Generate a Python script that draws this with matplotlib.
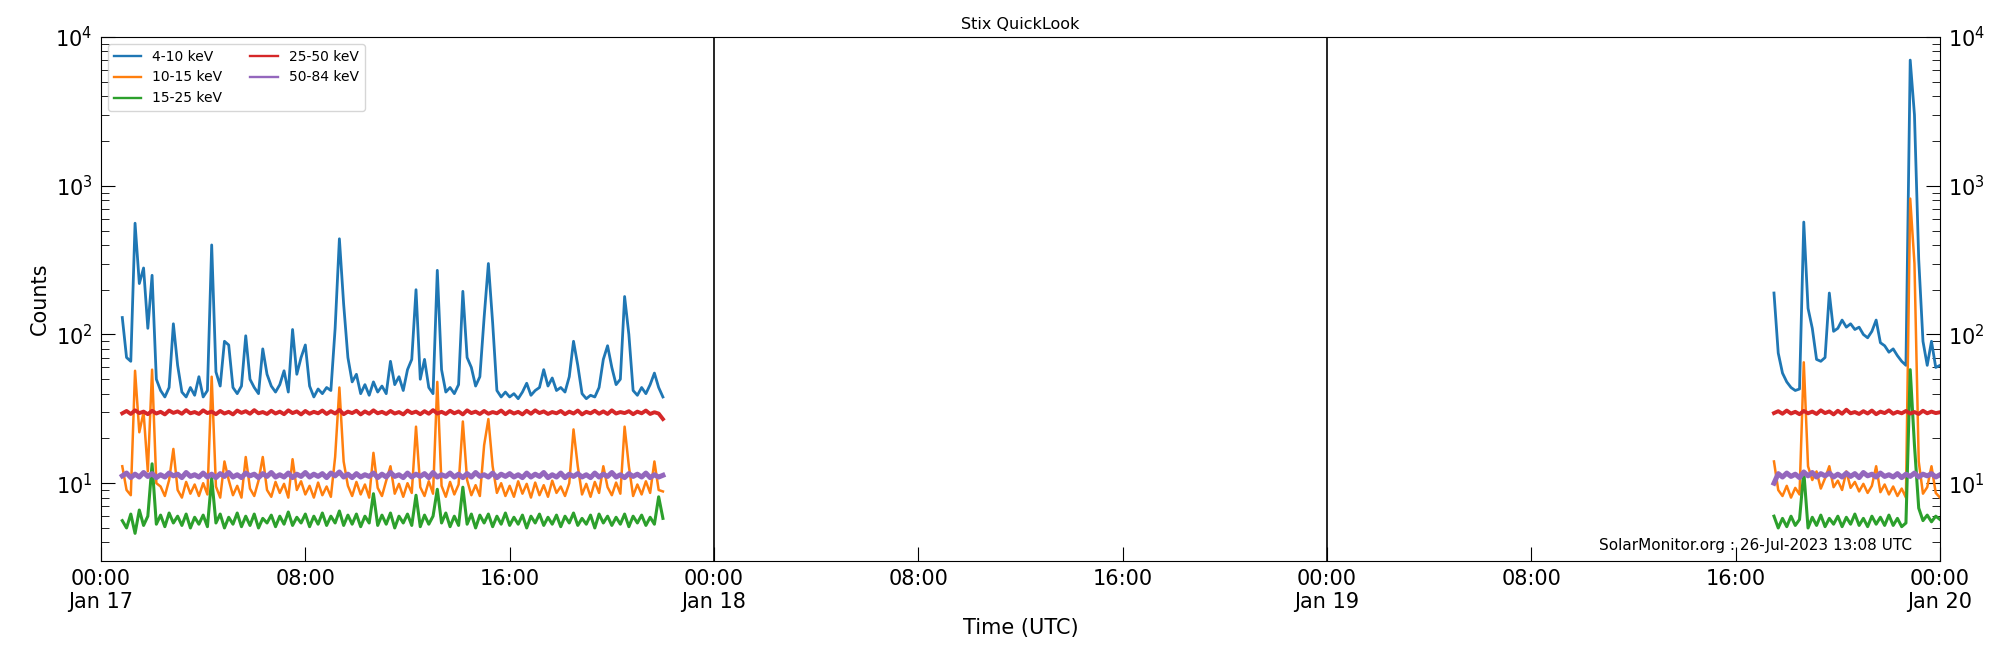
import numpy as np
import pandas as pd
import matplotlib
matplotlib.use('Agg')
import matplotlib.pyplot as plt
import matplotlib.dates as mdates
from matplotlib.ticker import FuncFormatter, LogLocator, NullFormatter

# Zeitraster der beiden Messabschnitte (10-Minuten-Werte)
t_jan17 = pd.date_range('2023-01-17 00:50', '2023-01-17 22:00', freq='10min')
t_jan19 = pd.date_range('2023-01-19 17:30', '2023-01-20 00:00', freq='10min')

labels = ['4-10 keV', '10-15 keV', '15-25 keV', '25-50 keV', '50-84 keV']
colors = ['tab:blue', 'tab:orange', 'tab:green', 'tab:red', 'tab:purple']
widths = [2.0, 1.8, 2.2, 2.8, 3.6]  # Rauschband wirkt in der Vorlage dicker

# 17. Januar, eine Zeile pro Stunde
c4_10_jan17 = [130,
    70, 66, 560, 220, 280, 110,
    250, 50, 42, 38, 44, 118,
    62, 41, 38, 44, 39, 52,
    38, 42, 400, 56, 45, 90,
    85, 44, 40, 45, 98, 50,
    44, 40, 80, 54, 45, 41,
    46, 57, 41, 108, 54, 70,
    85, 45, 38, 43, 40, 44,
    42, 110, 440, 160, 70, 48,
    54, 40, 46, 39, 48, 41,
    45, 40, 66, 46, 52, 42,
    58, 68, 200, 50, 68, 44,
    40, 270, 58, 41, 44, 40,
    46, 195, 70, 60, 45, 52,
    130, 300, 120, 42, 38, 41,
    38, 40, 37, 41, 47, 39,
    42, 44, 58, 45, 51, 42,
    44, 41, 52, 90, 62, 40,
    37, 39, 38, 44, 68, 84,
    60, 46, 50, 180, 100, 42,
    39, 44, 40, 46, 55, 44,
    38]

c10_15_jan17 = [13,
    9.0, 8.3, 57, 22, 30, 12,
    58, 10, 9.5, 8.2, 10.5, 17,
    9.0, 8.0, 10.2, 8.5, 9.8, 8.2,
    10.0, 8.4, 52, 9.5, 8.0, 14,
    10.5, 8.3, 9.6, 8.0, 15, 9.2,
    8.2, 10.4, 15, 9.0, 8.1, 10.2,
    8.6, 9.9, 8.0, 14.5, 9.0, 10.3,
    8.4, 9.6, 8.0, 10.1, 8.3, 9.5,
    8.1, 15, 44, 14, 9.6, 8.2,
    10.2, 8.4, 9.8, 8.0, 16, 9.3,
    8.2, 10.4, 13, 8.5, 9.9, 8.1,
    10.0, 8.6, 24, 9.4, 8.2, 10.3,
    8.5, 48, 9.6, 8.1, 10.2, 8.4,
    9.8, 26, 10.5, 8.3, 9.7, 8.2,
    18, 27, 13, 8.6, 10.0, 8.2,
    9.6, 8.1, 10.3, 8.5, 9.9, 8.0,
    10.1, 8.3, 9.7, 8.1, 10.4, 8.6,
    9.5, 8.2, 10.0, 23, 13, 8.4,
    9.9, 8.1, 10.2, 8.6, 13, 9.4,
    8.3, 10.1, 8.5, 24, 13, 8.2,
    9.8, 8.4, 10.3, 8.6, 14, 9.0,
    8.8]

c15_25_jan17 = [5.6,
    5.0, 6.2, 4.6, 6.6, 5.2, 6.0,
    13.5, 5.3, 6.1, 5.1, 6.3, 5.4,
    6.0, 5.2, 6.2, 5.0, 5.9, 5.3,
    6.1, 5.1, 10.8, 5.4, 6.2, 5.0,
    5.9, 5.3, 6.3, 5.1, 6.0, 5.2,
    6.2, 5.0, 5.8, 5.4, 6.1, 5.1,
    6.0, 5.3, 6.4, 5.2, 5.9, 5.4,
    6.2, 5.1, 6.0, 5.3, 6.3, 5.2,
    6.0, 5.4, 6.5, 5.2, 6.1, 5.3,
    6.2, 5.1, 6.0, 5.4, 8.5, 5.2,
    6.1, 5.3, 6.3, 5.0, 6.0, 5.4,
    6.2, 5.2, 8.3, 5.1, 6.1, 5.3,
    6.0, 9.1, 5.4, 6.3, 5.1, 6.0,
    5.2, 9.4, 5.3, 6.2, 5.0, 6.1,
    5.4, 6.2, 5.1, 6.0, 5.3, 6.3,
    5.2, 5.9, 5.3, 6.1, 5.0, 6.0,
    5.4, 6.2, 5.2, 5.9, 5.3, 6.1,
    5.1, 6.0, 5.4, 6.3, 5.2, 5.8,
    5.3, 6.1, 5.0, 6.2, 5.4, 6.0,
    5.2, 5.9, 5.3, 6.2, 5.1, 6.0,
    5.4, 6.1, 5.2, 5.9, 5.3, 8.1,
    5.8]

c25_50_jan17 = [29.5,
    30.6, 29.2, 30.9, 29.6, 30.3, 29.1,
    30.7, 29.4, 30.2, 29.0, 30.8, 29.7,
    30.4, 29.3, 31.0, 29.5, 30.1, 29.2,
    30.9, 29.6, 30.3, 29.1, 30.6, 29.4,
    30.2, 29.0, 30.8, 29.7, 30.5, 29.3,
    31.0, 29.5, 30.1, 29.2, 30.7, 29.4,
    30.3, 29.1, 30.9, 29.6, 30.4, 29.0,
    30.6, 29.3, 30.2, 29.5, 30.8, 29.2,
    30.5, 29.4, 31.1, 29.1, 30.3, 29.6,
    30.7, 29.0, 30.4, 29.3, 30.9, 29.5,
    30.2, 29.2, 30.6, 29.4, 30.1, 29.0,
    30.8, 29.6, 30.3, 29.1, 30.5, 29.3,
    31.0, 29.4, 30.2, 29.2, 30.7, 29.5,
    30.4, 29.0, 30.9, 29.6, 30.3, 29.2,
    30.6, 29.3, 30.1, 29.5, 30.8, 29.1,
    30.5, 29.4, 30.2, 29.0, 30.7, 29.3,
    30.9, 29.6, 30.4, 29.2, 30.1, 29.5,
    30.6, 29.1, 30.3, 29.4, 30.8, 29.0,
    30.2, 29.5, 30.7, 29.3, 30.4, 29.2,
    30.9, 29.4, 30.1, 29.6, 30.5, 29.1,
    30.3, 29.5, 30.8, 29.2, 30.0, 29.4,
    27.0]

c50_84_jan17 = [11.2,
    11.7, 10.9, 11.5, 11.0, 11.8, 11.1,
    11.6, 10.9, 11.4, 11.0, 11.7, 11.2,
    11.5, 10.9, 11.8, 11.1, 11.4, 11.0,
    11.7, 11.0, 11.5, 10.9, 11.6, 11.1,
    11.8, 11.0, 11.4, 10.9, 11.7, 11.2,
    11.5, 10.9, 11.6, 11.1, 11.8, 11.0,
    11.4, 11.0, 11.7, 10.9, 11.5, 11.1,
    11.8, 11.0, 11.5, 11.1, 11.6, 10.9,
    11.7, 11.2, 11.9, 11.0, 11.5, 10.9,
    11.6, 11.0, 11.4, 11.1, 11.7, 10.9,
    11.5, 11.0, 11.8, 11.1, 11.4, 10.9,
    11.7, 11.0, 11.5, 11.1, 11.6, 10.9,
    11.8, 11.0, 11.4, 11.1, 11.7, 11.0,
    11.5, 10.9, 11.6, 11.0, 11.8, 11.1,
    11.4, 11.0, 11.7, 10.9, 11.5, 11.1,
    11.6, 11.0, 11.4, 10.9, 11.7, 11.0,
    11.5, 11.1, 11.8, 10.9, 11.4, 11.0,
    11.7, 10.9, 11.5, 11.1, 11.6, 11.0,
    11.4, 10.9, 11.7, 11.0, 11.5, 11.1,
    11.8, 11.0, 11.4, 10.9, 11.6, 11.1,
    11.5, 11.0, 11.7, 10.9, 11.4, 11.0,
    11.3]

# 19. Januar ab 17:30
c4_10_jan19 = [190, 75, 55,
    48, 44, 42, 43, 570, 150,
    110, 68, 66, 70, 190, 105,
    110, 125, 112, 118, 108, 112,
    100, 95, 105, 125, 88, 84,
    76, 80, 72, 66, 62, 7000,
    3000, 320, 90, 62, 90, 60,
    62]

c10_15_jan19 = [14, 9.0, 8.2,
    9.6, 8.0, 9.3, 8.4, 65, 13,
    10.5, 12, 9.2, 10.8, 13, 9.4,
    10.4, 9.0, 12, 9.3, 10.2, 8.8,
    9.9, 8.6, 9.6, 13, 8.7, 9.8,
    8.4, 9.5, 8.2, 9.2, 8.0, 820,
    300, 14, 8.5, 9.4, 13, 8.6,
    8.0]

c15_25_jan19 = [6.0, 5.0, 5.8,
    5.1, 6.0, 5.2, 5.7, 12, 5.0,
    5.9, 5.2, 6.1, 5.1, 5.8, 5.3,
    6.0, 5.1, 5.9, 5.3, 6.2, 5.2,
    5.8, 5.1, 6.0, 5.3, 5.9, 5.2,
    6.1, 5.2, 5.8, 5.1, 5.4, 58,
    18, 6.8, 5.6, 6.1, 5.5, 6.0,
    5.7]

c25_50_jan19 = [29.6, 30.5, 29.3,
    30.8, 29.4, 30.2, 29.1, 30.6, 29.5,
    30.3, 29.2, 30.9, 29.6, 30.4, 29.0,
    30.7, 29.3, 31.2, 29.5, 30.1, 29.2,
    30.5, 29.4, 30.8, 29.1, 30.3, 29.6,
    30.9, 29.3, 30.2, 29.5, 30.6, 29.4,
    30.1, 29.2, 30.7, 29.5, 30.3, 29.6,
    30.0]

c50_84_jan19 = [10.0, 11.6, 11.0,
    11.7, 11.1, 11.5, 10.9, 11.9, 11.2,
    11.8, 11.0, 11.6, 11.2, 11.7, 11.0,
    11.5, 11.0, 11.7, 11.1, 11.6, 10.9,
    11.8, 11.2, 11.5, 11.0, 11.7, 11.1,
    11.4, 11.0, 11.6, 10.9, 11.5, 11.1,
    11.7, 11.0, 11.5, 11.2, 11.6, 11.0,
    11.4]

series_jan17 = [c4_10_jan17, c10_15_jan17, c15_25_jan17, c25_50_jan17, c50_84_jan17]
series_jan19 = [c4_10_jan19, c10_15_jan19, c15_25_jan19, c25_50_jan19, c50_84_jan19]


def format_time(x, pos):
    d = mdates.num2date(x)
    if d.hour == 0 and d.minute == 0:
        return d.strftime('%H:%M\n%b %d')
    return d.strftime('%H:%M')


fig = plt.figure(figsize=(20, 6.5), dpi=100)
ax = fig.add_axes([0.0505, 0.137, 0.9195, 0.806])

for lab, col, lw, v17, v19 in zip(labels, colors, widths, series_jan17, series_jan19):
    ax.plot(t_jan17, v17, color=col, lw=lw, label=lab)
    ax.plot(t_jan19, v19, color=col, lw=lw)

for day in ['2023-01-18', '2023-01-19']:
    ax.axvline(pd.Timestamp(day), color='black', lw=1.2)

ax.set_yscale('log')
ax.set_ylim(3, 1e4)
ax.set_xlim(pd.Timestamp('2023-01-17'), pd.Timestamp('2023-01-20'))

ax.xaxis.set_major_locator(mdates.HourLocator(byhour=[0, 8, 16]))
ax.xaxis.set_major_formatter(FuncFormatter(format_time))
ax.yaxis.set_major_locator(LogLocator(base=10, numticks=10))
ax.yaxis.set_minor_locator(LogLocator(base=10, subs=np.arange(2, 10), numticks=10))
ax.yaxis.set_minor_formatter(NullFormatter())

ax.tick_params(which='both', direction='in', right=True, labelright=True, top=False)
ax.tick_params(which='major', length=10, labelsize=15, pad=6)
ax.tick_params(which='minor', length=6)

ax.set_title('Stix QuickLook', fontsize=11.5, pad=6)
ax.set_xlabel('Time (UTC)', fontsize=15)
ax.set_ylabel('Counts', fontsize=15)

leg = ax.legend(loc='upper left', ncol=2, fontsize=10)
for line in leg.get_lines():
    line.set_linewidth(1.7)
ax.text(0.985, 0.016, 'SolarMonitor.org : 26-Jul-2023 13:08 UTC', transform=ax.transAxes,
        ha='right', va='bottom', fontsize=11)

fig.savefig('out.png', dpi=100)
